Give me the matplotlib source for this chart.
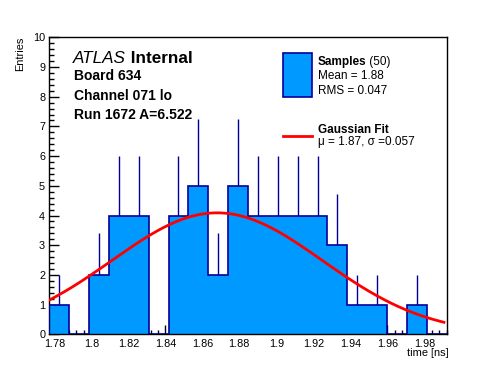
import matplotlib
matplotlib.use('Agg')

import matplotlib.pyplot as plt
import numpy as np
from matplotlib.ticker import MultipleLocator, FuncFormatter
from matplotlib.patches import Rectangle
from matplotlib.lines import Line2D

plt.rcParams['font.family'] = ['Liberation Sans', 'DejaVu Sans']

# histogram data (20 bins)
counts = [1, 0, 2, 4, 4, 0, 4, 5, 2, 5, 4, 4, 4, 4, 3, 1, 1, 0, 1, 0]
x_lo = 1.7773
x_hi = 1.9921
n_entries = 50
mean_val = 1.88
rms_val = 0.047

# gaussian fit
fit_amp = 4.09
fit_mu = 1.868
fit_sigma = 0.057

fill_col = '#0099ff'
edge_col = '#000099'

W, H = 496, 372
fig = plt.figure(figsize=(W / 100, H / 100), dpi=100)
fx = lambda px: px / W
fy = lambda py: 1 - py / H

ax = fig.add_axes([fx(49.3), fy(334.3), (446.7 - 49.3) / W, (334.3 - 37.3) / H])

counts = np.array(counts, dtype=float)
edges = np.linspace(x_lo, x_hi, len(counts) + 1)
centers = 0.5 * (edges[:-1] + edges[1:])
width = edges[1] - edges[0]

# error bars (lower half gets hidden under the fill)
m = counts > 0
ax.vlines(centers[m], counts[m] - np.sqrt(counts[m]), counts[m] + np.sqrt(counts[m]),
          color=edge_col, lw=1.0, zorder=1)
ax.bar(centers, counts, width=width, color=fill_col, edgecolor='none', zorder=2)
ax.stairs(counts, edges, baseline=0, color=edge_col, lw=1.2, zorder=3)

xs = np.linspace(x_lo, x_hi - 0.0015, 400)
ax.plot(xs, fit_amp * np.exp(-0.5 * ((xs - fit_mu) / fit_sigma) ** 2),
        color='#ff0000', lw=2.0, zorder=4)

ax.set_xlim(x_lo, x_hi)
ax.set_ylim(0, 10)
ax.xaxis.set_major_locator(MultipleLocator(0.02))
ax.xaxis.set_minor_locator(MultipleLocator(0.004))
ax.yaxis.set_major_locator(MultipleLocator(1))
ax.yaxis.set_minor_locator(MultipleLocator(0.2))
ax.xaxis.set_major_formatter(FuncFormatter(lambda v, p: '%g' % round(v, 4)))
ax.tick_params(axis='x', which='major', direction='in', length=6.5, width=1, labelsize=7.8, pad=3.5)
ax.tick_params(axis='x', which='minor', direction='in', length=3, width=1)
ax.tick_params(axis='y', which='major', direction='in', length=7.2, width=1, labelsize=7.8, pad=3)
ax.tick_params(axis='y', which='minor', direction='in', length=3.6, width=1)
for s in ax.spines.values():
    s.set_linewidth(1.0)

fig.text(fx(449), fy(356), 'time [ns]', ha='right', va='baseline', fontsize=7.9)
fig.text(fx(20), fy(37), 'Entries', ha='center', va='top', rotation=90, fontsize=7.9)

# labels
t = fig.text(fx(73.3), fy(63.3), 'ATLAS', style='italic', fontsize=12.3, va='baseline')
ax.annotate(' Internal', xy=(1, 0), xycoords=t, va='bottom', ha='left',
            fontsize=12.3, fontweight='bold')
for txt, yb in [('Board 634', 80), ('Channel 071 lo', 99.7), ('Run 1672 A=6.522', 119.3)]:
    fig.text(fx(74.3), fy(yb), txt, fontsize=10, fontweight='bold', va='baseline')

# legend
fig.patches.append(Rectangle((fx(282.7), fy(96.7)), (311.7 - 282.7) / W, (96.7 - 52.7) / H,
                             transform=fig.transFigure, facecolor=fill_col,
                             edgecolor=edge_col, lw=1.2))
fig.lines.append(Line2D([fx(282.7), fx(311.7)], [fy(136), fy(136)],
                        transform=fig.transFigure, color='#ff0000', lw=2.0))
s1 = fig.text(fx(317.7), fy(65), 'Samples', fontsize=8.5, fontweight='bold', va='baseline')
ax.annotate(' (%d)' % n_entries, xy=(1, 0), xycoords=s1, va='bottom', ha='left', fontsize=8.5)
fig.text(fx(317.7), fy(79.3), 'Mean = %.2f' % mean_val, fontsize=8.5, va='baseline')
fig.text(fx(317.7), fy(94), 'RMS = %.3f' % rms_val, fontsize=8.5, va='baseline')
fig.text(fx(317.7), fy(133.3), 'Gaussian Fit', fontsize=8.5, fontweight='bold', va='baseline')
fig.text(fx(317.7), fy(145), '\u03bc = %.2f, \u03c3 =%.3f' % (1.87, fit_sigma),
         fontsize=8.5, va='baseline')

fig.savefig('out.png', dpi=100)
